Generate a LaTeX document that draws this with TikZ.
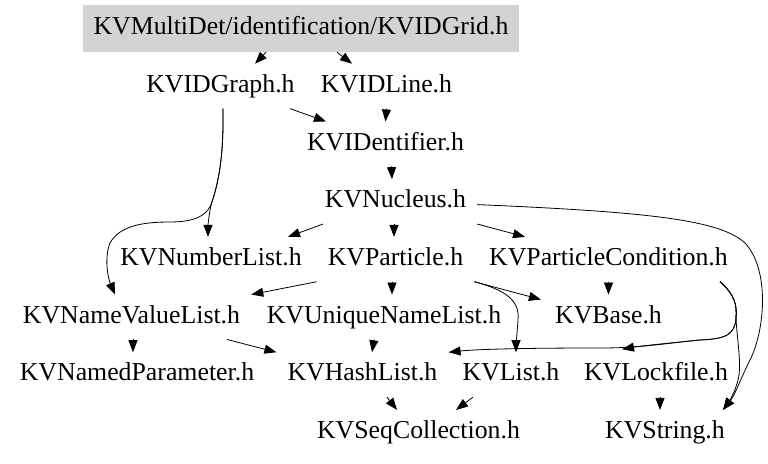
\documentclass[tikz,border=0pt]{standalone}
\usepackage{fontspec}
\setmainfont{Liberation Serif}
\usetikzlibrary{arrows.meta}
\definecolor{rootgray}{RGB}{211,211,211}
\newcommand\hfont{\fontsize{25.8pt}{30pt}\selectfont}
\tikzset{
  hdr/.style={inner xsep=11pt, inner ysep=0pt, minimum height=44.5pt,
              text height=18pt, text depth=5.7pt, font=\hfont},
  root/.style={hdr, minimum height=47pt, fill=rootgray},
  dep/.style={draw, line width=0.8pt, -{Triangle[length=12pt,width=9pt]}}
}
\begin{document}
\begin{tikzpicture}[x=1pt,y=1pt]
\useasboundingbox (0,0) rectangle (768,463);
% nodes
\node[root] (grid) at (301,434.5) {KVMultiDet/identification/KVIDGrid.h};
\node[hdr] (graph) at (220.5,376.8) {KVIDGraph.h};
\node[hdr] (line) at (386.5,376.8) {KVIDLine.h};
\node[hdr] (ident) at (385.5,319.1) {KVIDentifier.h};
\node[hdr] (nucleus) at (395.5,261.4) {KVNucleus.h};
\node[hdr] (numlist) at (211,203.7) {KVNumberList.h};
\node[hdr] (particle) at (395.5,203.7) {KVParticle.h};
\node[hdr] (pcond) at (608.5,203.7) {KVParticleCondition.h};
\node[hdr] (nvlist) at (131.5,146) {KVNameValueList.h};
\node[hdr] (unlist) at (384,146) {KVUniqueNameList.h};
\node[hdr] (base) at (608.5,146) {KVBase.h};
\node[hdr] (namedpar) at (137,88.3) {KVNamedParameter.h};
\node[hdr] (hashlist) at (362.5,88.3) {KVHashList.h};
\node[hdr] (list) at (511,88.3) {KVList.h};
\node[hdr] (lockfile) at (656,88.3) {KVLockfile.h};
\node[hdr] (seqcoll) at (418.5,30.6) {KVSeqCollection.h};
\node[hdr] (string) at (665,30.6) {KVString.h};
% edges
\draw[dep] ([xshift=-35pt]grid.south) -- ([xshift=34.5pt]graph.north);
\draw[dep] ([xshift=36pt]grid.south) -- ([xshift=-34.5pt]line.north);
\draw[dep] ([xshift=69.5pt]graph.south) -- ([xshift=-59.5pt]ident.north);
\draw[dep] (line.south) -- (ident.north);
\draw[dep] ([xshift=2.5pt]graph.south) .. controls (224,298) and (216,273) .. (211,258)
  .. controls (209,248) and (208,238) .. ([xshift=-3pt]numlist.north);
\draw[dep] ([xshift=2.5pt]graph.south) .. controls (224,298) and (216,273) .. (211,258)
  .. controls (205,245) and (190,241) .. (170,241)
  .. controls (145,241) and (120,238) .. (110,220)
  .. controls (104,205) and (108,185) .. ([xshift=-16.5pt]nvlist.north);
\draw[dep] ([xshift=6pt]ident.south) -- ([xshift=-3.5pt]nucleus.north);
\draw[dep] ([xshift=-72.5pt]nucleus.south) -- ([xshift=77pt]numlist.north);
\draw[dep] ([xshift=-1.5pt]nucleus.south) -- ([xshift=-1.5pt]particle.north);
\draw[dep] (nucleus.south east) -- ([xshift=-83.5pt]pcond.north);
\draw[dep] ([yshift=-3pt]nucleus.east) .. controls (650,251) and (720,243) .. (745,220)
  .. controls (770,193) and (765,133) .. (750,103)
  .. controls (740,83) and (735,68) .. ([xshift=58pt]string.north);
\draw[dep] (particle.south west) -- (nvlist.north east);
\draw[dep] ([xshift=-3.5pt]particle.south) -- ([xshift=8pt]unlist.north);
\draw[dep] (particle.south east) -- ([xshift=-3pt,yshift=-5pt]base.north west);
\draw[dep] (particle.south east) .. controls (505,173) and (520,163) .. (518,143)
  .. controls (517,128) and (516,118) .. ([xshift=5pt]list.north);
\draw[dep] (pcond.south) -- (base.north);
\draw[dep] ([xshift=111.5pt]pcond.south) .. controls (735,168) and (737,158) .. (736,145)
  .. controls (735,128) and (725,124) .. (700,123)
  .. controls (660,119) and (640,115) .. (600,115)
  .. controls (530,115) and (480,114) .. (hashlist.north east);
\draw[dep] ([xshift=111.5pt]pcond.south) .. controls (735,168) and (737,158) .. (736,145)
  .. controls (735,128) and (725,124) .. (700,123)
  .. controls (670,120) and (640,117) .. ([xshift=-34pt,yshift=3pt]lockfile.north);
\draw[dep] ([xshift=111.5pt]pcond.south) .. controls (735,168) and (737,158) .. (736,145)
  .. controls (737,123) and (742,98) .. (738,83)
  .. controls (735,71) and (730,63) .. ([xshift=58pt]string.north);
\draw[dep] ([xshift=1.5pt]nvlist.south) -- ([xshift=-4pt]namedpar.north);
\draw[dep] ([xshift=95.5pt]nvlist.south) -- (hashlist.north west);
\draw[dep] ([xshift=-10pt]unlist.south) -- ([xshift=9.5pt]hashlist.north);
\draw[dep] ([xshift=24.5pt]hashlist.south) -- ([xshift=-21.5pt]seqcoll.north);
\draw[dep] ([xshift=-38pt]list.south) -- ([xshift=37.5pt]seqcoll.north);
\draw[dep] ([xshift=4pt]lockfile.south) -- ([xshift=-5pt]string.north);
\end{tikzpicture}
\end{document}
